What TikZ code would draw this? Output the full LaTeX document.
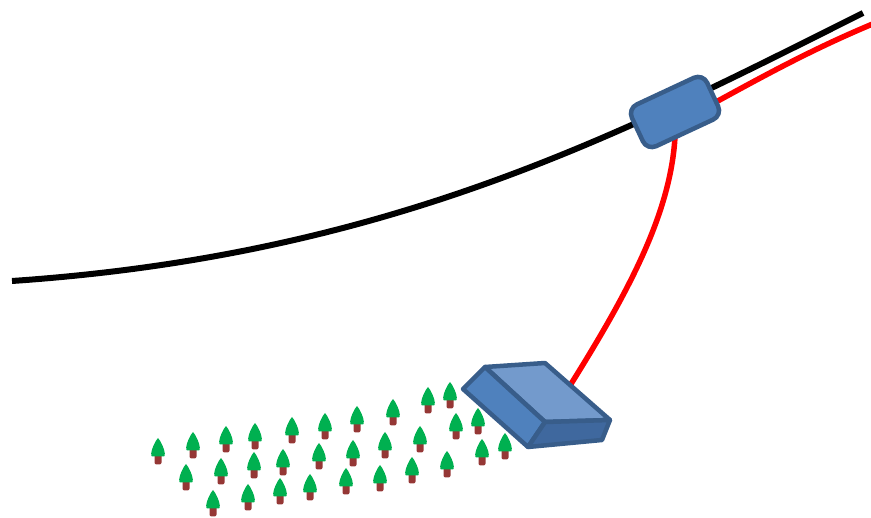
\documentclass[tikz,border=0pt]{standalone}
\usepackage{xcolor}
\usepackage{tikz}
\definecolor{uredjajplava}{RGB}{79,129,189}
\definecolor{okvirplava}{RGB}{56,93,138}
\definecolor{senzorsvetla}{RGB}{115,154,204}
\definecolor{senzortamna}{RGB}{63,104,158}
\definecolor{krosnjazelena}{RGB}{0,176,80}
\definecolor{stablosmedja}{RGB}{149,55,53}

\begin{document}
\begin{tikzpicture}[
    x=1pt,y=-1pt,
    kabl/.style={line width=6pt,black},
    kablc/.style={line width=5.5pt,red},
    uredjaj/.style={rectangle,rounded corners=10pt,draw=okvirplava,line width=4.5pt,
                    fill=uredjajplava,minimum width=83pt,minimum height=46pt,rotate=25},
    strana/.style={draw=okvirplava,line width=4.5pt,line join=round},
    krosnja/.style={fill=krosnjazelena},
    stablo/.style={fill=stablosmedja,rounded corners=2pt}
]
\useasboundingbox (0,0) rectangle (871,518);

\coordinate (spoj) at (675,112);
\coordinate (senzor) at (566,392);

% kablovi
\draw[kabl] (12,281) .. controls (392,255) and (623,133) .. (863,13);
\draw[kablc] (spoj) -- (705,108) .. controls (760,78) and (810,50) .. (875,23);
\draw[kablc] (spoj) .. controls (680,200) and (630,290) .. (senzor);

% drvece
\foreach \x/\y in {158/438,193/432,226/426,255/423,292/417,325/413,357/406,393/399,428/387,450/382,
                   186/464,221/458,254/452,283/449,319/443,353/440,385/432,420/426,456/413,478/408,
                   213/490,248/484,280/478,310/474,346/468,380/465,412/457,447/451,482/439,505/433}{
  \fill[stablo] (\x-3.5,\y+13) rectangle (\x+3.5,\y+26.5);
  \fill[krosnja] (\x,\y) .. controls (\x+3,\y+3) and (\x+6.8,\y+12) .. (\x+6.8,\y+15.5)
     .. controls (\x+6.8,\y+18.5) .. (\x+4.5,\y+18.5) -- (\x-4.5,\y+18.5)
     .. controls (\x-6.8,\y+18.5) .. (\x-6.8,\y+15.5)
     .. controls (\x-6.8,\y+12) and (\x-3,\y+3) .. cycle;
}

% senzor
\filldraw[strana,fill=senzorsvetla] (485,367) -- (545,363) -- (610,420) -- (545,422) -- cycle;
\filldraw[strana,fill=uredjajplava] (463,389) -- (485,367) -- (545,422) -- (528,447) -- cycle;
\filldraw[strana,fill=senzortamna] (545,422) -- (610,420) -- (602,440) -- (528,447) -- cycle;

% uredjaj na kablu
\node[uredjaj] (uredjaj) at (spoj) {};
\end{tikzpicture}
\end{document}
